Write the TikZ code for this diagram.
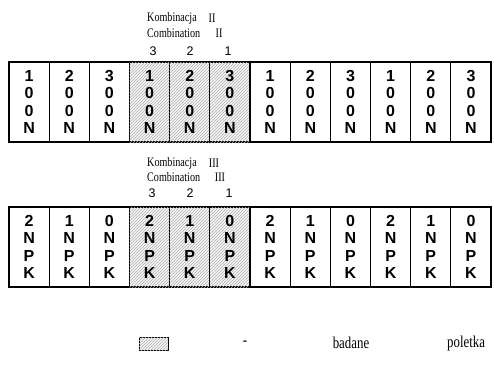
\documentclass[tikz,border=0pt]{standalone}
\usepackage{fontspec}
\setmainfont{Liberation Serif}[FakeStretch=0.78]
\setsansfont{Liberation Sans}
\usetikzlibrary{patterns}

\tikzset{
  plotbox/.style={draw, line width=1.2pt, minimum width=40.17pt, minimum height=80pt,
    inner sep=0pt, align=center, font=\sffamily\bfseries\fontsize{16}{17.4}\selectfont},
  testbox/.style={plotbox, fill=gray!8, postaction={pattern=north east lines, pattern color=gray!60}},
  lab/.style={font=\fontsize{13}{14}\selectfont, inner sep=0pt},
  num/.style={font=\sffamily\fontsize{12.5}{14}\selectfont, inner sep=0pt},
  keytext/.style={font=\fontsize{16.5}{18}\selectfont, inner sep=0pt}
}

\begin{document}
\begin{tikzpicture}[x=1pt, y=-1pt]
  \useasboundingbox (0,0) rectangle (494,369);

  % Combination II - labels
  \node[lab, anchor=west] (komb2) at (147,18) {Kombinacja};
  \node[lab] (komb2n) at (212,18) {II};
  \node[lab, anchor=west] (comb2) at (147,33) {Combination};
  \node[lab] (comb2n) at (219,33) {II};
  \node[num] (n23) at (153,51) {3};
  \node[num] (n22) at (190,51) {2};
  \node[num] (n21) at (228,51) {1};

  % Row 1 - N plots
  \foreach \i in {1,...,12} {
    \pgfmathtruncatemacro\d{mod(\i-1,3)+1}
    \ifnum\i>3 \ifnum\i<7 \def\sty{testbox}\else\def\sty{plotbox}\fi\else\def\sty{plotbox}\fi
    \node[\sty] (a\i) at ({9+40.17*(\i-0.5)},102) {\d\\0\\0\\N};
  }

  % Combination III - labels
  \node[lab, anchor=west] (komb3) at (147,163) {Kombinacja};
  \node[lab] (komb3n) at (214,163) {III};
  \node[lab, anchor=west] (comb3) at (147,177) {Combination};
  \node[lab] (comb3n) at (220,177) {III};
  \node[num] (n33) at (152,193) {3};
  \node[num] (n32) at (190,193) {2};
  \node[num] (n31) at (229,193) {1};

  % Row 2 - NPK plots
  \foreach \i in {1,...,12} {
    \pgfmathtruncatemacro\e{2-mod(\i-1,3)}
    \ifnum\i>3 \ifnum\i<7 \def\sty{testbox}\else\def\sty{plotbox}\fi\else\def\sty{plotbox}\fi
    \node[\sty] (b\i) at ({9+40.17*(\i-0.5)},247) {\e\\N\\P\\K};
  }

  % Legend
  \node[draw, line width=0.6pt, minimum width=29pt, minimum height=13pt, inner sep=0pt,
    fill=gray!8, postaction={pattern=north east lines, pattern color=gray!60}] (key) at (153.5,343.5) {};
  \node[keytext] (dash) at (245,343) {-};
  \node[keytext] (badane) at (351,343) {badane};
  \node[keytext, anchor=west] (poletka) at (447,344) {poletka};
\end{tikzpicture}
\end{document}
